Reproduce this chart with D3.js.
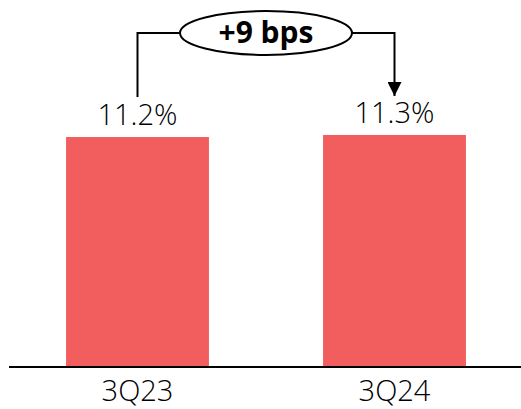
<!DOCTYPE html>
<html>
<head>
<meta charset="utf-8">
<script src="https://cdn.jsdelivr.net/npm/d3@7"></script>
<style>
  body { margin: 0; background: #fff; }
  svg { display: block; }
</style>
</head>
<body>
<div id="container"></div>
<script>
// data
const quarters = ["3Q23", "3Q24"];
const values = [11.2, 11.3];
const valueLabels = ["11.2%", "11.3%"];
const changeLabel = "+9 bps";

const width = 521,
  height = 409;

const barColor = "#F25E5E";

const xScale = d3.scaleBand()
  .domain(quarters)
  .range([9, 523])
  .paddingInner(0.444)
  .paddingOuter(0.222);

const yScale = d3.scaleLinear()
  .domain([0, 12])
  .range([367, 120.6]);

const svg = d3.select("#container")
  .append("svg")
  .attr("width", width)
  .attr("height", height);

const data = quarters.map((q, i) => ({ q, v: values[i], label: valueLabels[i] }));

// bars
svg.selectAll("rect.bar")
  .data(data)
  .join("rect")
  .attr("class", "bar")
  .attr("x", d => xScale(d.q))
  .attr("y", d => yScale(d.v))
  .attr("width", xScale.bandwidth())
  .attr("height", d => yScale(0) - yScale(d.v))
  .attr("fill", barColor);

// baseline
svg.append("line")
  .attr("x1", 9)
  .attr("x2", width)
  .attr("y1", yScale(0))
  .attr("y2", yScale(0))
  .attr("stroke", "#000")
  .attr("stroke-width", 2);

// value labels
svg.selectAll("text.val")
  .data(data)
  .join("text")
  .attr("class", "val")
  .attr("x", d => xScale(d.q) + xScale.bandwidth() / 2)
  .attr("y", d => yScale(d.v) - 12)
  .attr("text-anchor", "middle")
  .attr("font-family", "'Open Sans', sans-serif")
  .attr("font-weight", 300)
  .attr("font-size", 29)
  .attr("fill", "#000")
  .text(d => d.label);

// x labels
svg.selectAll("text.cat")
  .data(data)
  .join("text")
  .attr("class", "cat")
  .attr("x", d => xScale(d.q) + xScale.bandwidth() / 2)
  .attr("y", 401)
  .attr("text-anchor", "middle")
  .attr("font-family", "'Open Sans', sans-serif")
  .attr("font-weight", 300)
  .attr("font-size", 29)
  .attr("fill", "#000")
  .text(d => d.q);

// change annotation
const x1 = xScale(quarters[0]) + xScale.bandwidth() / 2,
  x2 = xScale(quarters[1]) + xScale.bandwidth() / 2,
  cx = (x1 + x2) / 2,
  cy = 33,
  rx = 86,
  ry = 22;

svg.append("defs").append("marker")
  .attr("id", "arrow")
  .attr("viewBox", "0 0 10 10")
  .attr("refX", 10)
  .attr("refY", 5)
  .attr("markerUnits", "userSpaceOnUse")
  .attr("markerWidth", 14)
  .attr("markerHeight", 14)
  .attr("orient", "auto")
  .append("path")
  .attr("d", "M0,0 L10,5 L0,10 Z")
  .attr("fill", "#000");

svg.append("path")
  .attr("d", `M${cx - rx},${cy} H${x1} V97`)
  .attr("fill", "none")
  .attr("stroke", "#000")
  .attr("stroke-width", 2);

svg.append("path")
  .attr("d", `M${cx + rx},${cy} H${x2} V96`)
  .attr("fill", "none")
  .attr("stroke", "#000")
  .attr("stroke-width", 2)
  .attr("marker-end", "url(#arrow)");

svg.append("ellipse")
  .attr("cx", cx)
  .attr("cy", cy)
  .attr("rx", rx)
  .attr("ry", ry)
  .attr("fill", "#fff")
  .attr("stroke", "#000")
  .attr("stroke-width", 2);

svg.append("text")
  .attr("x", cx)
  .attr("y", cy + 10)
  .attr("text-anchor", "middle")
  .attr("font-family", "'Open Sans', sans-serif")
  .attr("font-weight", 700)
  .attr("font-size", 30)
  .attr("fill", "#000")
  .text(changeLabel);
</script>
</body>
</html>
